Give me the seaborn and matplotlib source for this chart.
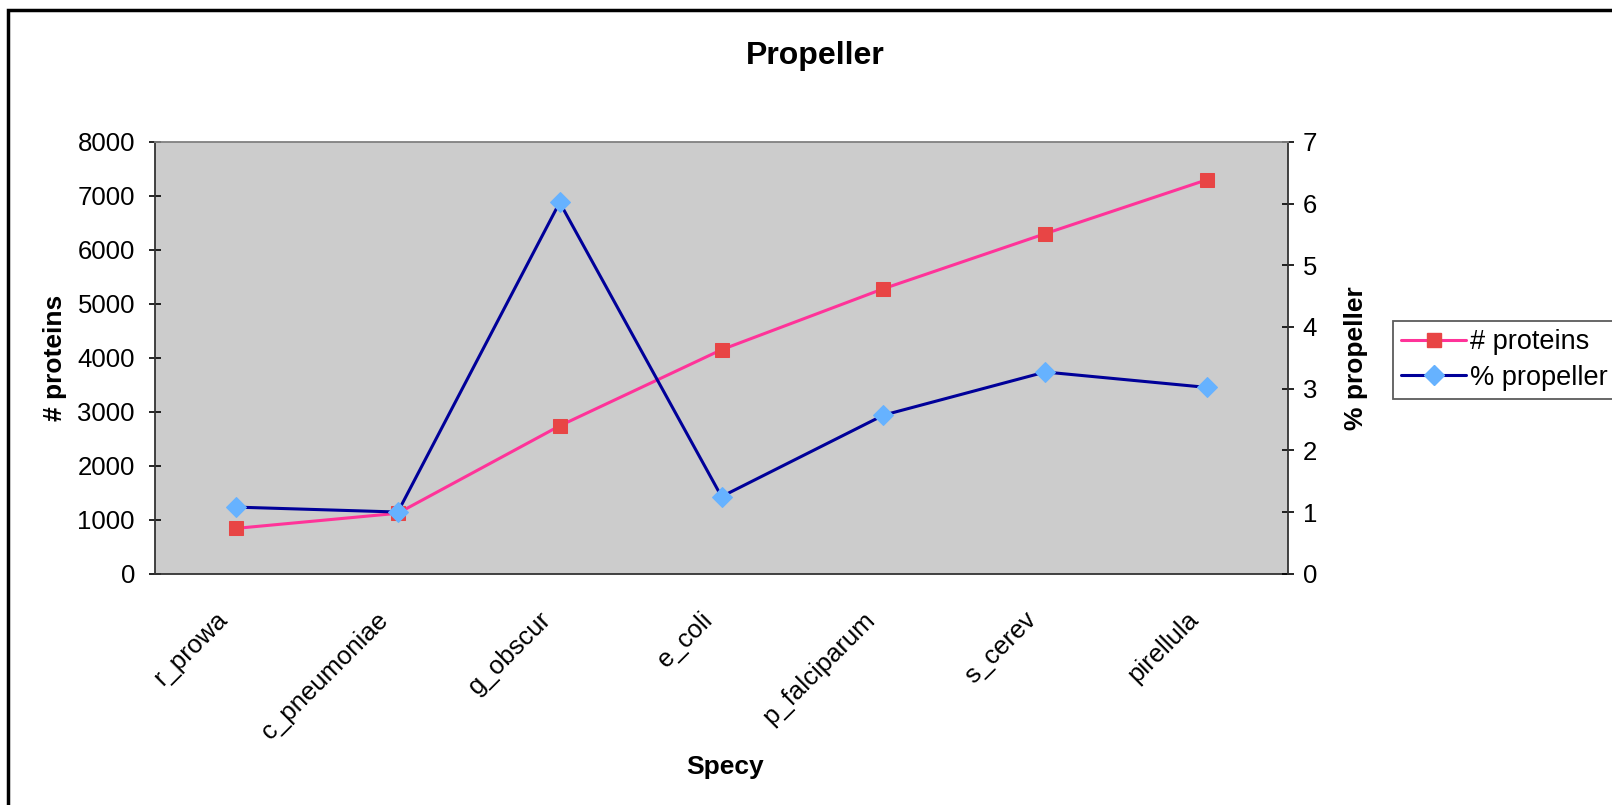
import pandas as pd
import matplotlib.pyplot as plt
import matplotlib.transforms as mtransforms
import seaborn as sns
from matplotlib.patches import Rectangle
from matplotlib.lines import Line2D

# data
species = ['r_prowa', 'c_pneumoniae', 'g_obscur', 'e_coli', 'p_falciparum', 's_cerev', 'pirellula']
n_proteins = [840, 1120, 2740, 4150, 5280, 6300, 7300]
pct_propeller = [1.08, 1.0, 6.02, 1.25, 2.57, 3.27, 3.02]

df = pd.DataFrame({'Specy': species, 'proteins': n_proteins, 'propeller': pct_propeller})

sns.set_style('white')
plt.rcParams['font.family'] = ['Liberation Sans', 'DejaVu Sans']
plt.rcParams.update({'text.color': 'black', 'axes.labelcolor': 'black',
                     'xtick.color': 'black', 'ytick.color': 'black'})

fig = plt.figure(figsize=(16.12, 8.05), dpi=100)
ax = fig.add_axes([0.0962, 0.2873, 0.7028, 0.5364])
ax.set_facecolor('#CCCCCC')

pink = '#FF3399'
navy = '#000099'
red = '#E84545'
light_blue = '#66B2FF'

sns.lineplot(data=df, x='Specy', y='proteins', sort=False, ax=ax, color=pink, lw=2.2,
             marker='s', markersize=10, markerfacecolor=red, markeredgecolor=red)
ax.set_xlim(-0.5, 6.5)
ax.set_ylim(0, 8000)
ax.set_yticks(range(0, 8001, 1000))

ax2 = ax.twinx()
sns.lineplot(data=df, x='Specy', y='propeller', sort=False, ax=ax2, color=navy, lw=2.2,
             marker='D', markersize=10, markerfacecolor=light_blue, markeredgecolor=light_blue)
ax2.set_ylim(0, 7)
ax2.set_yticks(range(0, 8))
ax.set_xlim(-0.5, 6.5)

# Excel style: tick marks between categories, labels at centres
ax.set_xticks(range(len(species)))
ax.set_xticklabels(species, rotation=45, ha='right', rotation_mode='anchor', fontsize=18.5)
ax.set_xticks([i - 0.5 for i in range(len(species) + 1)], minor=True)
ax.tick_params(axis='x', which='major', length=0, pad=24)
ax.tick_params(axis='x', which='minor', length=9, width=1.2, direction='inout', color='black')
ax.tick_params(axis='y', length=9, width=1.2, direction='inout', color='black', labelsize=18.5, pad=10)
ax2.tick_params(axis='y', length=9, width=1.2, direction='inout', color='black', labelsize=18.5, pad=6)
shift = mtransforms.ScaledTranslation(-0.21, 0, fig.dpi_scale_trans)
for lab in ax.get_xticklabels():
    lab.set_transform(lab.get_transform() + shift)

for a in (ax, ax2):
    for s in a.spines.values():
        s.set_visible(False)
        s.set_linewidth(1.3)
ax.spines['left'].set_visible(True)
ax.spines['bottom'].set_visible(True)
ax.spines['left'].set_color('#333333')
ax.spines['bottom'].set_color('#333333')
ax2.spines['right'].set_visible(True)
ax2.spines['right'].set_color('#333333')
ax2.spines['top'].set_visible(True)
ax2.spines['top'].set_color('#808080')

ax.set_xlabel('Specy', fontsize=19, fontweight='bold')
ax.xaxis.set_label_coords(0.503, -0.42)
ax.set_ylabel('# proteins', fontsize=19, fontweight='bold')
ax.yaxis.set_label_coords(-0.078, 0.5)
ax2.set_ylabel('% propeller', fontsize=19, fontweight='bold')
ax2.yaxis.set_label_coords(1.049, 0.5)
fig.text(815 / 1612, 1 - 56 / 805, 'Propeller', fontsize=23, fontweight='bold',
         ha='center', va='center')

handles = [
    Line2D([], [], color=pink, lw=2.2, marker='s', markersize=10,
           markerfacecolor=red, markeredgecolor=red),
    Line2D([], [], color=navy, lw=2.2, marker='D', markersize=10,
           markerfacecolor=light_blue, markeredgecolor=light_blue),
]
leg = fig.legend(handles, ['# proteins', '% propeller'], loc='upper left',
                 bbox_to_anchor=(1393 / 1612, 1 - 321 / 805), fontsize=19.5,
                 frameon=True, fancybox=False, handlelength=2.4, borderaxespad=0,
                 handletextpad=0.15, borderpad=0.3, labelspacing=0.35)
leg.get_frame().set_edgecolor('#333333')
leg.get_frame().set_linewidth(1.3)

# outer chart border
fig.patches.append(Rectangle((8 / 1612, -0.05), 1.2, 1 - 10 / 805 + 0.05,
                             transform=fig.transFigure, fill=False,
                             edgecolor='black', lw=2.5))

fig.savefig('out.png', dpi=100)
